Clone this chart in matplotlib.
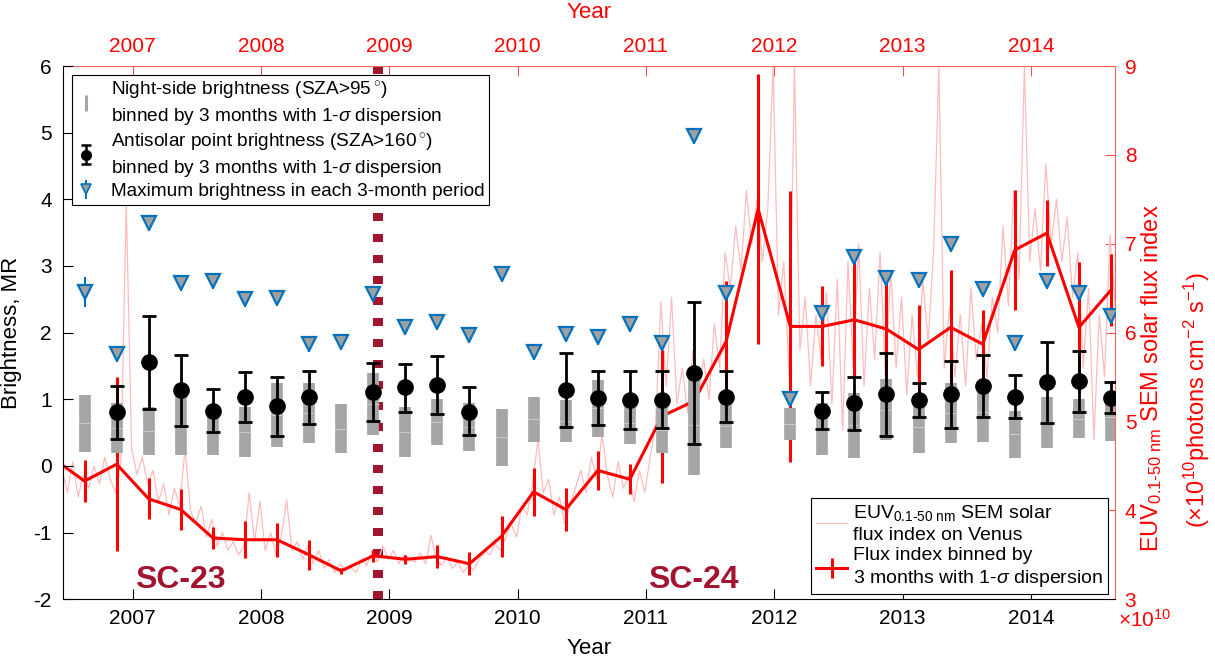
import numpy as np
import matplotlib.pyplot as plt
from matplotlib.lines import Line2D

plt.rcParams['font.family'] = ['Liberation Sans', 'DejaVu Sans']
plt.rcParams['mathtext.fontset'] = 'custom'
plt.rcParams['mathtext.rm'] = 'Liberation Sans'
plt.rcParams['mathtext.it'] = 'Liberation Sans:italic'
plt.rcParams['mathtext.bf'] = 'Liberation Sans:bold'
plt.rcParams['axes.unicode_minus'] = False

# ---------------------------------------------------------------------------
# Data
# ---------------------------------------------------------------------------
# 3-month bins, centre times
bin_t = 2006.625 + 0.25 * np.arange(33)

# night-side brightness (SZA>95), 1-sigma range [MR]
night_lo = [0.21, 0.19, 0.165, 0.165, 0.165, 0.14, 0.29, 0.34, 0.19, 0.47, 0.14,
            0.32, 0.23, 0.005, 0.365, 0.365, 0.44, 0.33, 0.19, -0.13, 0.265, np.nan,
            0.39, 0.165, 0.115, 0.39, 0.19, 0.34, 0.365, 0.115, 0.265, 0.415, 0.38]
night_hi = [1.065, 0.95, 0.89, 1.07, 0.85, 0.89, 1.24, 1.24, 0.93, 1.39, 0.89,
            1.0, 0.95, 0.85, 1.03, 0.99, 1.29, 0.95, 0.89, 1.35, 0.94, np.nan,
            0.865, 0.95, 1.1, 1.3, 0.99, 1.25, 1.25, 0.83, 1.04, 1.0, 1.1]

# antisolar point brightness (SZA>160): mean, low, high [MR]
anti_mean = [np.nan, 0.805, 1.555, 1.14, 0.83, 1.03, 0.905, 1.03, np.nan, 1.105, 1.18,
             1.215, 0.815, np.nan, np.nan, 1.14, 1.015, 0.99, 0.99, 1.39, 1.03, np.nan,
             np.nan, 0.83, 0.94, 1.075, 0.99, 1.075, 1.205, 1.04, 1.255, 1.28, 1.015]
anti_lo = [np.nan, 0.405, 0.85, 0.605, 0.505, 0.665, 0.455, 0.63, np.nan, 0.68, 0.805,
           0.775, 0.465, np.nan, np.nan, 0.59, 0.615, 0.55, 0.565, 0.325, 0.665, np.nan,
           np.nan, 0.555, 0.54, 0.45, 0.73, 0.565, 0.73, 0.725, 0.64, 0.815, 0.79]
anti_hi = [np.nan, 1.2, 2.255, 1.665, 1.15, 1.405, 1.34, 1.43, np.nan, 1.54, 1.53,
           1.65, 1.18, np.nan, np.nan, 1.69, 1.43, 1.43, 1.425, 2.455, 1.43, np.nan,
           np.nan, 1.105, 1.33, 1.69, 1.24, 1.575, 1.665, 1.365, 1.865, 1.725, 1.255]

# maximum brightness in each 3-month period [MR]
max_bright = [2.61, 1.68, 3.65, 2.75, 2.775, 2.5, 2.525, 1.825, 1.865, 2.575, 2.08,
              2.165, 1.965, 2.88, 1.715, 1.975, 1.94, 2.13, 1.85, 4.95, 2.6, np.nan,
              1.005, 2.3, 3.13, 2.815, 2.79, 3.325, 2.65, 1.84, 2.775, 2.6, 2.25]
max_err = [0.22] + [0.12] * 32

# EUV flux binned by 3 months (x1e10 photons cm-2 s-1)
flux_bin_t = 2006.375 + 0.25 * np.arange(34)
flux_bin = [4.59, 4.33, 4.52, 4.13, 4.01, 3.69, 3.67, 3.67, 3.50, 3.32, 3.49, 3.45,
            3.48, 3.40, 3.71, 4.21, 4.01, 4.45, 4.35, 5.06, 5.23, 5.90, 7.39, 6.07,
            6.07, 6.145, 6.04, 5.81, 6.06, 5.87, 6.93, 7.12, 6.06, 6.48]
flux_bin_err = [0.2, 0.24, 0.98, 0.23, 0.23, 0.12, 0.21, 0.19, 0.17, 0.03, 0.07, 0.05,
                0.13, 0.13, 0.23, 0.27, 0.24, 0.22, 0.17, 0.75, 0.3, 0.68, 1.52, 1.52,
                0.45, 0.65, 0.57, 0.5, 0.64, 0.39, 0.68, 0.37, 0.74, 0.41]

# EUV flux index on Venus, half-month samples from 2006.45
flux_raw_t = 2006.45 + np.arange(198) / 24.0
flux_raw = [
    4.45, 4.20, 4.55, 4.15, 4.40, 4.25, 4.50, 4.30, 4.60, 4.35, 4.20, 4.55,
    7.45, 4.70, 4.40, 4.60, 4.30, 4.45, 4.10, 4.30, 3.95, 4.25, 4.05, 4.70,
    4.00, 3.85, 4.05, 3.70, 3.90, 3.60, 3.75, 3.55, 3.65, 3.50, 3.60, 4.20,
    3.65, 4.10, 3.55, 3.75, 3.50, 3.70, 4.12, 3.55, 3.65, 3.45, 3.60, 3.40,
    3.55, 3.35, 3.45, 3.30, 3.40, 3.32, 3.36, 3.30, 3.45, 3.38, 3.55, 3.42,
    3.60, 3.45, 3.55, 3.40, 3.50, 3.45, 3.42, 3.52, 3.40, 3.72, 3.45, 3.38,
    3.48, 3.35, 3.42, 3.30, 3.38, 3.33, 3.45, 3.55, 3.50, 3.62, 3.55, 3.70,
    3.85, 3.70, 4.05, 3.95, 4.30, 4.79, 4.20, 4.35, 3.95, 4.15, 3.85, 4.05,
    4.25, 4.45, 4.20, 4.60, 4.35, 4.85, 4.40, 4.15, 4.55, 4.25, 4.40, 4.10,
    4.45, 4.20, 4.60, 4.95, 6.35, 5.40, 6.40, 5.20, 5.60, 5.10, 5.80, 5.30,
    5.70, 5.25, 6.10, 5.60, 6.90, 6.50, 7.20, 6.70, 7.60, 7.00, 7.50, 6.80,
    7.40, 9.00, 6.20, 6.80, 5.50, 9.00, 5.80, 6.40, 5.40, 6.20, 5.70, 6.45,
    5.20, 6.60, 4.90, 6.80, 5.60, 7.00, 5.40, 6.50, 5.70, 6.90, 5.50, 6.70,
    5.60, 6.40, 5.30, 6.20, 5.50, 6.60, 5.90, 6.90, 9.00, 5.60, 6.30, 5.50,
    6.20, 5.40, 6.50, 5.70, 6.10, 5.50, 6.40, 6.00, 7.20, 6.30, 7.60, 6.60,
    9.00, 6.80, 7.40, 6.70, 7.90, 7.00, 7.50, 6.80, 7.30, 6.40, 6.90, 5.60,
    6.50, 4.80, 6.20, 5.50, 7.10, 6.30,
]

years = [2007, 2008, 2009, 2010, 2011, 2012, 2013, 2014]
minimum_t = 2008.91

# ---------------------------------------------------------------------------
# Figure
# ---------------------------------------------------------------------------
W, H = 1215, 659
fig = plt.figure(figsize=(W / 100, H / 100), dpi=100)
ax = fig.add_axes([63 / W, 1 - 599.3 / H, (1115 - 63) / W, (599.3 - 66) / H])
ax2 = ax.twinx()
ax.set_zorder(ax2.get_zorder() + 1)
ax.patch.set_visible(False)

dark_red = '#A2142F'
blue = '#0072BD'

# flux (right axis)
ax2.axvline(minimum_t, color=dark_red, lw=7.2, ls=(0, (0.8, 1.3)), zorder=1)
pink, = ax2.plot(flux_raw_t, flux_raw, color='#ffbcbc', lw=0.9, zorder=2)
flux_eb = ax2.errorbar(flux_bin_t, flux_bin, yerr=flux_bin_err, fmt='-', color='red',
                       lw=2.2, elinewidth=2.2, capsize=0, zorder=3)

# brightness (left axis)
night_lo = np.array(night_lo)
night_hi = np.array(night_hi)
ax.vlines(bin_t, night_lo, night_hi, color='#a6a6a6', lw=8.4, zorder=2)
ax.plot(bin_t, (night_lo + night_hi) / 2, '_', ms=8.4, mew=0.7, color='#cdcdcd', zorder=2.1)

anti_mean = np.array(anti_mean)
anti_err = [anti_mean - np.array(anti_lo), np.array(anti_hi) - anti_mean]
ax.errorbar(bin_t, anti_mean, yerr=anti_err, fmt='o', color='k', ms=11,
            lw=2, capsize=5, capthick=2, zorder=4)

ax.errorbar(bin_t, max_bright, yerr=max_err, fmt='v', color=blue,
            mfc='#a0a0a0', mec=blue, mew=1.6, ms=10.5, lw=1.5, capsize=0, zorder=5)

ax.text(2007.02, -1.83, 'SC-23', color=dark_red, fontsize=23, fontweight='bold')
ax.text(2011.02, -1.83, 'SC-24', color=dark_red, fontsize=23, fontweight='bold')

# axes setup
ax.set_xlim(2006.457, 2014.656)
ax.set_ylim(-2, 6)
ax2.set_ylim(3, 9)
ax.set_xticks(years)
ax.set_yticks(range(-2, 7))
ax2.set_yticks(range(3, 10))

ax.tick_params(axis='both', direction='in', length=7.5, width=0.8, labelsize=15,
               top=False, right=False)
ax.tick_params(axis='y', pad=8)
ax.tick_params(axis='x', pad=7)

ax2.xaxis.set_visible(True)
ax2.xaxis.tick_top()
ax2.set_xticks(years)
ax2.tick_params(axis='both', direction='in', length=7.5, width=0.8, labelsize=15,
                colors='#ff5050', labelcolor='red')
ax2.tick_params(axis='x', pad=7, bottom=False, labelbottom=False)
ax2.tick_params(axis='y', pad=7)

for s in ['top', 'right']:
    ax2.spines[s].set_color('#ff6060')
    ax.spines[s].set_visible(False)
ax2.spines['left'].set_visible(False)
ax2.spines['bottom'].set_visible(False)

ax.set_ylabel('Brightness, MR', fontsize=16)
ax.yaxis.set_label_coords(-0.039, 0.5)
ax.set_xlabel('Year', fontsize=16, va='center')
ax.xaxis.set_label_coords(0.5, (599.3 - 648) / 533.3)
ax2.set_xlabel('Year', fontsize=16, color='red', va='center')
ax2.xaxis.set_label_position('top')
ax2.xaxis.set_label_coords(0.5, 1 + (66 - 18) / 533.3)

fig.text(1152 / W, 1 - 378 / H, 'EUV$_{\\text{0.1-50 nm}}$ SEM solar flux index',
         rotation=90, color='red', fontsize=17, ha='center', va='center')
fig.text(1197 / W, 1 - 400 / H, '($\\times$10$^{10}$photons cm$^{-2}$ s$^{-1}$)',
         rotation=90, color='red', fontsize=17, ha='center', va='center')
fig.text(1118 / W, 1 - 620 / H, '$\\times$10$^{10}$', color='red', fontsize=15,
         ha='left', va='center')

# legends (small proxies for the handles)
gray_handle = Line2D([], [], color='#a6a6a6', marker='|', ms=12, mew=2.2, ls='none')
anti_handle = ax.errorbar([np.nan], [np.nan], yerr=[0.1], fmt='o', color='k', ms=7,
                          lw=1.8, capsize=3.5, capthick=1.8)
max_handle = ax.errorbar([np.nan], [np.nan], yerr=[0.1], fmt='v', color=blue,
                         mfc='#a0a0a0', mec=blue, mew=1.2, ms=6.5, lw=1.5, capsize=0)
leg1 = ax.legend(
    [gray_handle, anti_handle, max_handle],
    ['Night-side brightness (SZA>95$\\,^{\\circ}$)\nbinned by 3 months with 1-$\\sigma$ dispersion',
     'Antisolar point brightness (SZA>160$\\,^{\\circ}$)\nbinned by 3 months with 1-$\\sigma$ dispersion',
     'Maximum brightness in each 3-month period'],
    loc='upper left', bbox_to_anchor=(72 / W, 1 - 75 / H), bbox_transform=fig.transFigure,
    borderaxespad=0, fontsize=13.7, fancybox=False, framealpha=1, edgecolor='k',
    handlelength=1.0, handletextpad=0.8, labelspacing=0.22, borderpad=0.25)
leg1.get_frame().set_linewidth(0.8)
for t in leg1.get_texts():
    t.set_linespacing(1.27)
ax.add_artist(leg1)

leg2 = ax.legend(
    [pink, flux_eb],
    ['EUV$_{\\text{0.1-50 nm}}$ SEM solar\nflux index on Venus',
     'Flux index binned by\n3 months with 1-$\\sigma$ dispersion'],
    loc='lower right', bbox_to_anchor=(1108 / W, 1 - 594 / H), bbox_transform=fig.transFigure,
    borderaxespad=0, fontsize=14, fancybox=False, framealpha=1, edgecolor='k',
    handlelength=1.6, handletextpad=0.3, labelspacing=0.2, borderpad=0.25)
leg2.get_frame().set_linewidth(0.8)
for t in leg2.get_texts():
    t.set_linespacing(1.25)

fig.savefig('out.png', dpi=100)
